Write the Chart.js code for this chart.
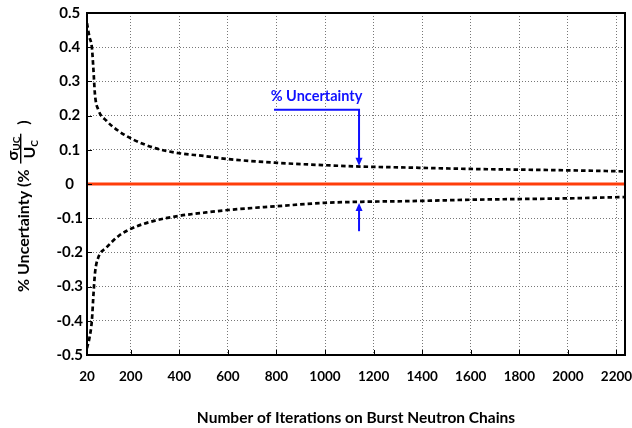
<!DOCTYPE html>
<html>
<head>
<meta charset="utf-8">
<script src="https://cdn.jsdelivr.net/npm/chart.js@4.4.1/dist/chart.umd.min.js"></script>
<style>
  html, body { margin: 0; padding: 0; background: #fff; }
  #wrap { width: 632px; height: 428px; }
</style>
</head>
<body>
<div id="wrap"><canvas id="grafico"></canvas></div>
<script>
// número de iterações (eixo x)
const iterations = [20, 30, 40, 46, 53, 66, 100, 150, 210, 300, 400, 500, 600, 800, 1000, 1150, 1350, 1600, 1800, 2000, 2235];
// curva superior e inferior (% incerteza)
const upper = [0.47, 0.43, 0.40, 0.34, 0.26, 0.218, 0.185, 0.155, 0.13, 0.105, 0.09, 0.082, 0.073, 0.062, 0.055, 0.051, 0.048, 0.044, 0.042, 0.040, 0.037];
const lower = [-0.48, -0.45, -0.40, -0.33, -0.26, -0.216, -0.186, -0.152, -0.128, -0.107, -0.093, -0.084, -0.076, -0.065, -0.055, -0.052, -0.05, -0.046, -0.044, -0.042, -0.038];
// linha do zero
const zeroX = [20, 2235];
const zeroY = [0, 0];

// ticks
const xTicks = [20, 200, 400, 600, 800, 1000, 1200, 1400, 1600, 1800, 2000, 2200];
const yTicks = [0.5, 0.4, 0.3, 0.2, 0.1, 0, -0.1, -0.2, -0.3, -0.4, -0.5];

// anotação (setas)
const noteText = '% Uncertainty';
const noteTextPos = [965, 0.255];
const noteLineStart = [790, 0.217];
const noteArrowX = 1140;
const lowerArrowFrom = -0.138;

const fonte = 'Lato, "Open Sans", sans-serif';

const toPoints = (xs, ys) => xs.map((v, i) => ({ x: v, y: ys[i] }));

const dashed = {
  borderColor: '#000',
  borderWidth: 2.7,
  borderDash: [4.5, 3],
  pointRadius: 0,
  cubicInterpolationMode: 'monotone',
  fill: false
};

// moldura do gráfico
const frame = {
  id: 'frame',
  afterDatasetsDraw(chart) {
    const { ctx, chartArea: a, scales: { x, y } } = chart;
    ctx.save();
    ctx.strokeStyle = '#000';
    ctx.lineWidth = 1;
    // pequenas marcas internas
    xTicks.forEach(v => {
      const px = Math.round(x.getPixelForValue(v)) + 0.5;
      ctx.beginPath(); ctx.moveTo(px, a.bottom); ctx.lineTo(px, a.bottom - 5); ctx.stroke();
    });
    yTicks.forEach(v => {
      const py = Math.round(y.getPixelForValue(v)) + 0.5;
      ctx.beginPath(); ctx.moveTo(a.left, py); ctx.lineTo(a.left + 5, py); ctx.stroke();
    });
    ctx.lineWidth = 2;
    ctx.strokeRect(a.left, a.top, a.right - a.left, a.bottom - a.top);
    ctx.restore();
  }
};

// setas azuis e texto
const arrows = {
  id: 'arrows',
  afterDatasetsDraw(chart) {
    const { ctx, scales: { x, y } } = chart;
    const ax = x.getPixelForValue(noteArrowX);
    ctx.save();
    ctx.strokeStyle = '#1010ff';
    ctx.fillStyle = '#1010ff';
    ctx.lineWidth = 2;
    // superior
    const sy = y.getPixelForValue(noteLineStart[1]);
    const ty = y.getPixelForValue(0.0535);
    ctx.beginPath();
    ctx.moveTo(x.getPixelForValue(noteLineStart[0]), sy);
    ctx.lineTo(ax, sy);
    ctx.lineTo(ax, ty - 6);
    ctx.stroke();
    ctx.beginPath();
    ctx.moveTo(ax - 3.5, ty - 8); ctx.lineTo(ax + 3.5, ty - 8); ctx.lineTo(ax, ty); ctx.closePath(); ctx.fill();
    // inferior
    const by = y.getPixelForValue(lowerArrowFrom);
    const uy = y.getPixelForValue(-0.0555);
    ctx.beginPath();
    ctx.moveTo(ax, by);
    ctx.lineTo(ax, uy + 6);
    ctx.stroke();
    ctx.beginPath();
    ctx.moveTo(ax - 3.5, uy + 8); ctx.lineTo(ax + 3.5, uy + 8); ctx.lineTo(ax, uy); ctx.closePath(); ctx.fill();
    // texto
    ctx.font = 'bold 14.5px ' + fonte;
    ctx.textAlign = 'center';
    ctx.textBaseline = 'middle';
    ctx.fillText(noteText, x.getPixelForValue(noteTextPos[0]), y.getPixelForValue(noteTextPos[1]));
    ctx.restore();
  }
};

// título do eixo y com a fração
const yTitle = {
  id: 'yTitle',
  afterDraw(chart) {
    const ctx = chart.ctx;
    ctx.save();
    ctx.translate(24, 292);
    ctx.rotate(-Math.PI / 2);
    ctx.fillStyle = '#000';
    ctx.textAlign = 'left';
    ctx.textBaseline = 'middle';
    ctx.font = 'bold 16px ' + fonte;
    let px = 0;
    const main = '% Uncertainty (% ';
    ctx.fillText(main, px, 0);
    px += ctx.measureText(main).width + 2;
    ctx.textBaseline = 'alphabetic';
    ctx.fillText('σ', px + 3, -6);
    const sw = ctx.measureText('σ').width;
    ctx.fillText('U', px + 5, 11);
    const uw = ctx.measureText('U').width;
    ctx.font = 'bold 10px ' + fonte;
    ctx.fillText('UC', px + 3 + sw, -4);
    const numW = sw + ctx.measureText('UC').width;
    ctx.fillText('C', px + 5 + uw, 14);
    ctx.fillRect(px, -4, numW + 6, 1.4);
    px += numW + 15;
    ctx.font = 'bold 16px ' + fonte;
    ctx.textBaseline = 'middle';
    ctx.fillText(')', px, 0);
    ctx.restore();
  }
};

const config = {
  type: 'line',
  data: {
    datasets: [
      Object.assign({ label: 'upper', data: toPoints(iterations, upper) }, dashed),
      Object.assign({ label: 'lower', data: toPoints(iterations, lower) }, dashed),
      {
        label: 'zero',
        data: toPoints(zeroX, zeroY),
        borderColor: '#ff3d0a',
        borderWidth: 3,
        pointRadius: 0
      }
    ]
  },
  options: {
    responsive: true,
    maintainAspectRatio: false,
    animation: false,
    layout: { padding: { top: 13, right: 7, left: 0, bottom: 1 } },
    plugins: {
      legend: { display: false },
      tooltip: { enabled: false }
    },
    scales: {
      x: {
        type: 'linear',
        min: 20,
        max: 2235,
        afterBuildTicks: s => { s.ticks = xTicks.map(v => ({ value: v })); },
        afterFit: s => { s.height = 72; s.paddingLeft = 0; s.paddingRight = 0; },
        grid: { color: '#777', drawTicks: false },
        border: { display: false, dash: [1, 2] },
        ticks: {
          color: '#000',
          padding: 14,
          maxRotation: 0,
          autoSkip: false,
          font: { family: fonte, size: 13.5, weight: 'bold' },
          callback: v => String(v)
        },
        title: {
          display: true,
          text: 'Number of Iterations on Burst Neutron Chains',
          color: '#000',
          padding: { top: 0, bottom: 0 },
          font: { family: fonte, size: 15.5, weight: 'bold' }
        }
      },
      y: {
        min: -0.5,
        max: 0.5,
        afterBuildTicks: s => { s.ticks = yTicks.map(v => ({ value: v })); },
        afterFit: s => { s.width = 87; s.paddingTop = 0; s.paddingBottom = 0; },
        grid: { color: '#777', drawTicks: false },
        border: { display: false, dash: [1, 2] },
        ticks: {
          color: '#000',
          padding: 4,
          crossAlign: 'center',
          font: { family: fonte, size: 15, weight: 'bold' },
          callback: v => String(Math.round(v * 10) / 10)
        }
      }
    }
  },
  plugins: [frame, arrows, yTitle]
};

const grafico = new Chart(document.getElementById('grafico'), config);
</script>
</body>
</html>
